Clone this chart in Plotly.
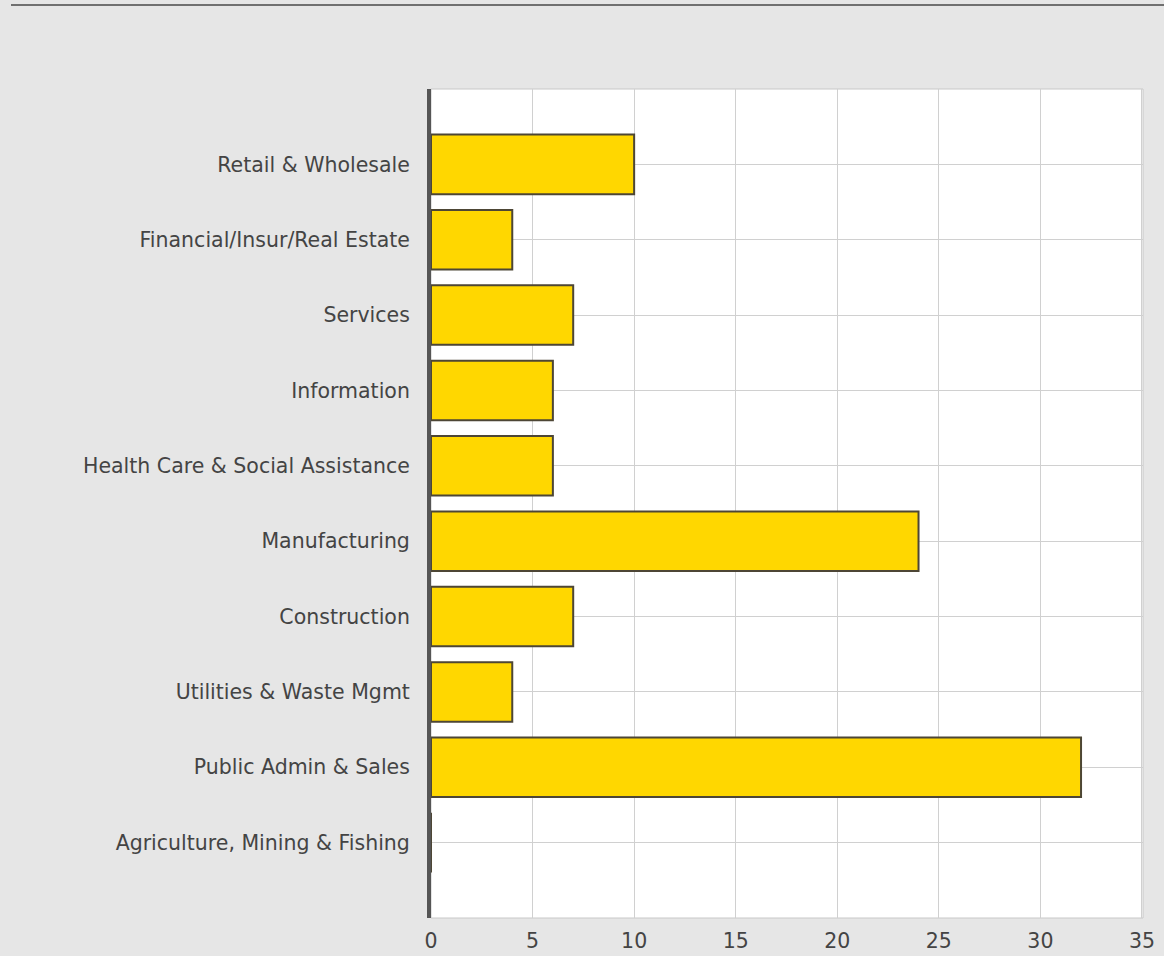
import plotly.graph_objects as go

categories = [
    "Agriculture, Mining & Fishing",
    "Public Admin & Sales",
    "Utilities & Waste Mgmt",
    "Construction",
    "Manufacturing",
    "Health Care & Social Assistance",
    "Information",
    "Services",
    "Financial/Insur/Real Estate",
    "Retail & Wholesale",
]
values = [0, 32, 4, 7, 24, 6, 6, 7, 4, 10]
x_ticks = [0, 5, 10, 15, 20, 25, 30, 35]

W, H = 1164, 956
L, R, T, B = 431, 21, 89, 38
pw, ph = W - L - R, H - T - B

FONT = dict(family="DejaVu Sans", size=20.5, color="#444444")

fig = go.Figure()
fig.add_trace(go.Bar(
    x=values, y=categories, orientation="h",
    width=0.79,
    marker=dict(color="#FFD700", line=dict(color="#4d4635", width=2)),
    hoverinfo="x+y",
))

fig.update_layout(
    width=W, height=H,
    margin=dict(l=L, r=R, t=T, b=B, pad=0, autoexpand=False),
    paper_bgcolor="#e6e6e6",
    plot_bgcolor="#ffffff",
    showlegend=False,
    bargap=0.2,
    font=FONT,
    xaxis=dict(
        range=[0, 35.05], tickvals=x_ticks, ticktext=[str(v) for v in x_ticks],
        showgrid=True, gridcolor="#d0d0d0", gridwidth=1,
        zeroline=False, showline=False, automargin=False,
        ticks="", ticklabelstandoff=8,
        tickfont=FONT,
        fixedrange=True,
    ),
    yaxis=dict(
        type="category", categoryorder="array", categoryarray=categories,
        range=[-1, 10],
        showgrid=True, gridcolor="#d0d0d0", gridwidth=1,
        zeroline=False, automargin=False,
        showline=True, linecolor="#555555", linewidth=4,
        ticks="", ticklabelstandoff=13,
        tickfont=FONT,
        fixedrange=True,
    ),
    shapes=[
        dict(type="rect", xref="paper", yref="paper", x0=0, x1=1, y0=0, y1=1,
             line=dict(color="#c8c8c8", width=1), layer="below"),
        dict(type="line", xref="paper", yref="paper",
             x0=(11 - L) / pw, x1=(W - L) / pw,
             y0=1 + (T - 5) / ph, y1=1 + (T - 5) / ph,
             line=dict(color="#707070", width=2)),
    ],
)

fig.write_html("out.html", config={"displayModeBar": False},
               post_script="document.body.style.margin='0';")
